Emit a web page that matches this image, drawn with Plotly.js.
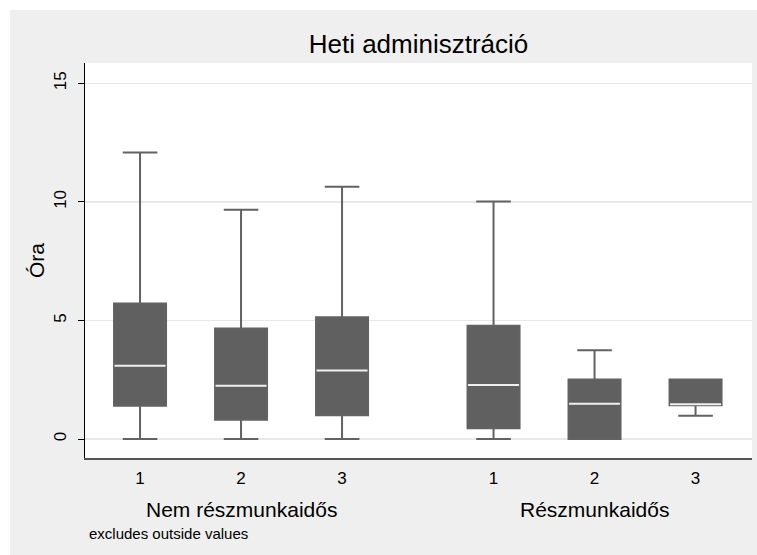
<!DOCTYPE html>
<html>
<head>
<meta charset="utf-8">
<script src="https://cdn.plot.ly/plotly-3.0.1.min.js"></script>
<style>
  html, body { margin: 0; padding: 0; background: #ffffff; }
  #chart { position: absolute; left: 10px; top: 10px; width: 747px; height: 545px; }
</style>
</head>
<body>
<div id="chart"></div>
<script>
// ---- data ----
var positions   = [1, 2, 3, 4.5, 5.5, 6.5];
var tickText    = ['1', '2', '3', '1', '2', '3'];
var groupNames  = ['Nem részmunkaidős', 'Részmunkaidős'];
var groupCenter = [2, 5.5];
var q1          = [1.40, 0.81, 1.00, 0.45, 0.00, 1.42];
var median      = [3.09, 2.25, 2.89, 2.28, 1.49, 1.47];
var q3          = [5.72, 4.66, 5.14, 4.78, 2.51, 2.51];
var lowerFence  = [0.00, 0.00, 0.00, 0.00, 0.00, 0.98];
var upperFence  = [12.08, 9.67, 10.64, 10.02, 3.74, 2.51];
var yTicks      = [0, 5, 10, 15];
var titleText   = 'Heti adminisztráció';
var yTitle      = 'Óra';
var noteText    = 'excludes outside values';

// ---- styling ----
var boxWidth = 0.515;
var FONT = 'Liberation Sans, Arial, sans-serif';

var boxTrace = {
  type: 'box',
  x: positions,
  q1: q1,
  median: median,
  q3: q3,
  lowerfence: lowerFence,
  upperfence: upperFence,
  boxpoints: false,
  width: boxWidth,
  whiskerwidth: 0.665,
  fillcolor: '#606060',
  line: { color: '#626262', width: 2 },
  hoverinfo: 'skip',
  showlegend: false
};

var mx = [], my = [];
var hw = boxWidth / 2 - 0.005;
for (var i = 0; i < positions.length; i++) {
  mx.push(positions[i] - hw, positions[i] + hw, null);
  my.push(median[i], median[i], null);
}
var medianTrace = {
  type: 'scatter', mode: 'lines', x: mx, y: my,
  line: { color: '#f0f0f0', width: 2 },
  hoverinfo: 'skip', showlegend: false
};

var annotations = [];
for (var g = 0; g < groupNames.length; g++) {
  annotations.push({
    text: groupNames[g], xref: 'x', x: groupCenter[g], yref: 'paper', y: -0.1316,
    xanchor: 'center', yanchor: 'middle', showarrow: false,
    font: { family: FONT, size: 21, color: '#000' }
  });
}
annotations.push({
  text: noteText, xref: 'paper', x: 0.003, yref: 'paper', y: -0.192,
  xanchor: 'left', yanchor: 'middle', showarrow: false,
  font: { family: FONT, size: 15, color: '#000' }
});

var layout = {
  width: 747, height: 545,
  paper_bgcolor: '#efefef',
  plot_bgcolor: '#ffffff',
  margin: { l: 75, r: 5, t: 53, b: 97, pad: 0 },
  font: { family: FONT, color: '#000' },
  title: {
    text: titleText, font: { family: FONT, size: 26, color: '#000' },
    xref: 'paper', x: 0.5, xanchor: 'center',
    yref: 'container', y: 0.9376, yanchor: 'middle'
  },
  xaxis: {
    range: [0.455, 7.059],
    tickvals: positions, ticktext: tickText,
    ticks: '', showgrid: false, zeroline: false,
    showline: true, linecolor: '#555555', linewidth: 1.5,
    tickfont: { family: FONT, size: 17, color: '#000' },
    ticklabelstandoff: 4
  },
  yaxis: {
    range: [-0.8, 15.86],
    tickvals: yTicks, ticktext: yTicks.map(String),
    ticks: 'outside', ticklen: 6, tickcolor: '#000', tickwidth: 1,
    tickangle: -90,
    showgrid: true, gridcolor: '#e8e8e8', gridwidth: 1.5,
    zeroline: false,
    showline: true, linecolor: '#000', linewidth: 1,
    tickfont: { family: FONT, size: 17, color: '#000' },
    ticklabelstandoff: 5,
    title: { text: yTitle, font: { family: FONT, size: 21, color: '#000' }, standoff: 0 }
  },
  annotations: annotations,
  showlegend: false
};

Plotly.newPlot('chart', [boxTrace, medianTrace], layout, { staticPlot: true, displayModeBar: false });
</script>
</body>
</html>
